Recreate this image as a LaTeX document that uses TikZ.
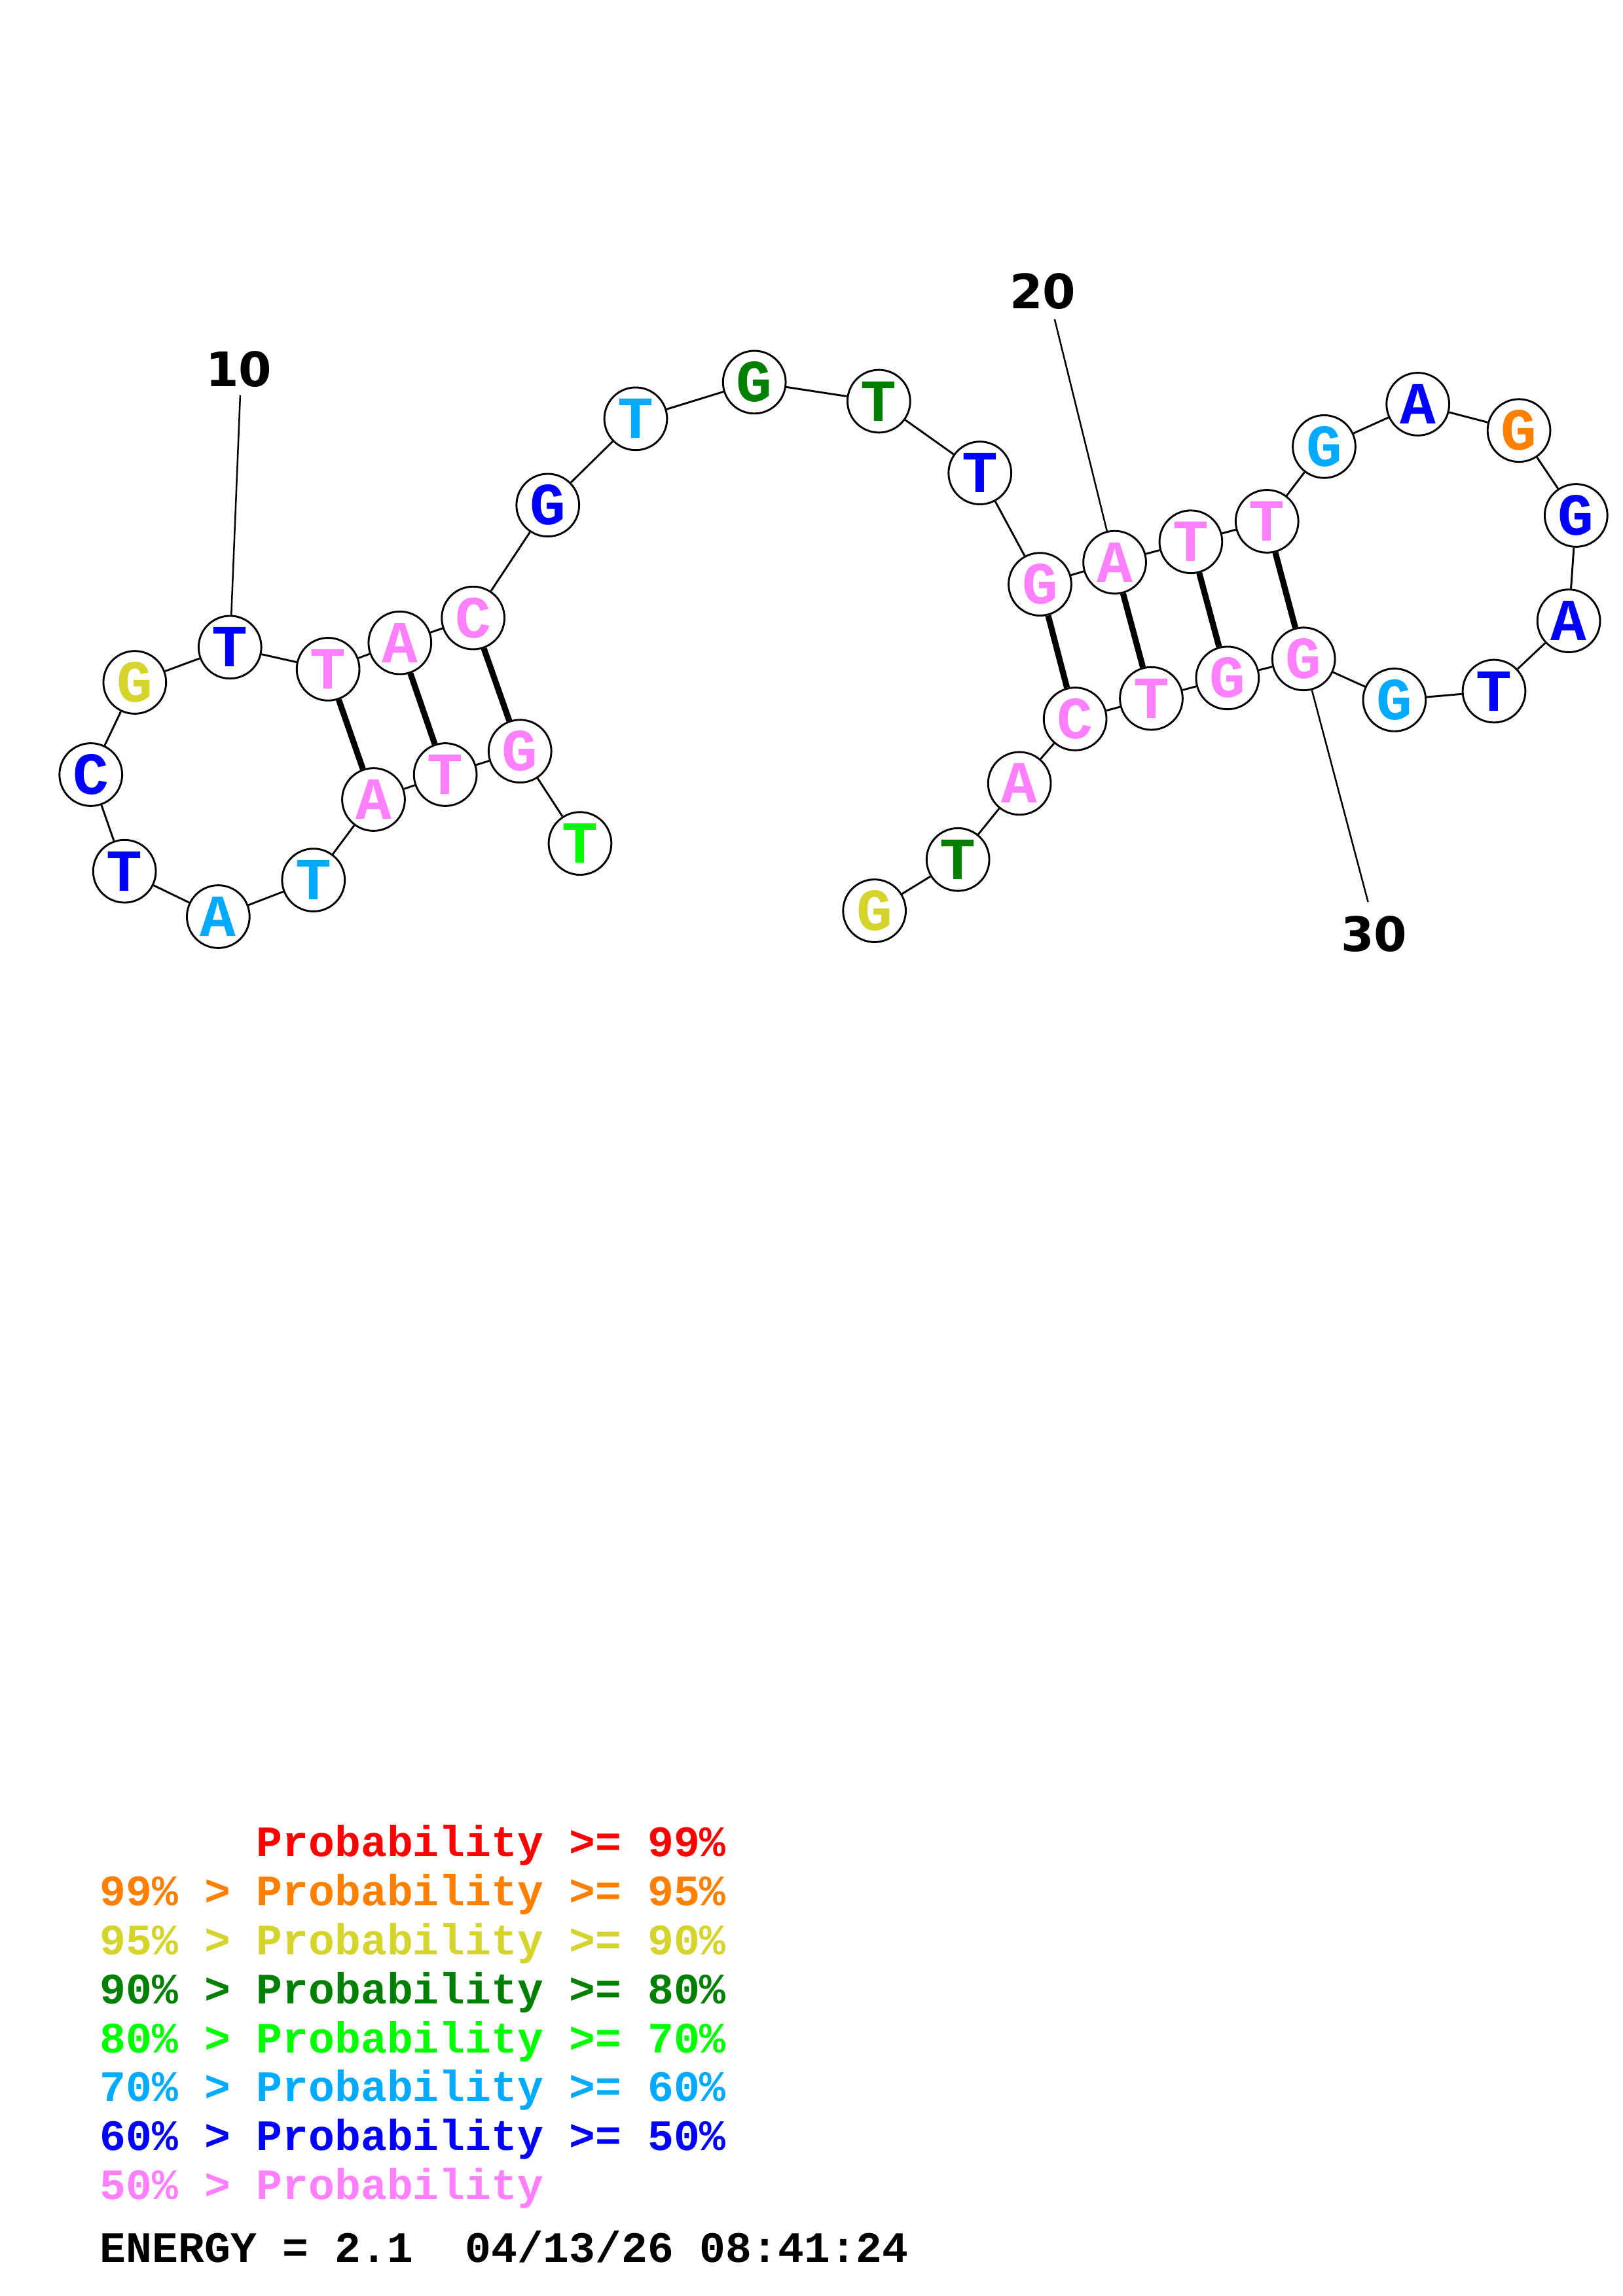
\documentclass[tikz,border=0pt]{standalone}
\usepackage{fontspec}
\newfontfamily\basefont{Liberation Mono}
\newfontfamily\numfont{DejaVu Sans}
\usetikzlibrary{
	positioning				% relative placement
	, calc					% coordinate arithmetic
}
\definecolor{prob99}{HTML}{FF0000}
\definecolor{prob95}{HTML}{FF8000}
\definecolor{prob90}{HTML}{D4D42C}
\definecolor{prob80}{HTML}{008000}
\definecolor{prob70}{HTML}{00FF00}
\definecolor{prob60}{HTML}{00AAFF}
\definecolor{prob50}{HTML}{0000FF}
\definecolor{problow}{HTML}{FF80FF}

\begin{document}
\begin{tikzpicture}[
		x=0.5373bp, y=-0.5373bp
		, nucleotide/.style={draw, circle, fill=white, line width=0.7bp, minimum size=23bp, inner sep=0pt, font=\basefont\bfseries\fontsize{22}{22}\selectfont}
		, backbone/.style={line width=0.7bp}
		, basepair/.style={line width=2.2bp}
		, tickline/.style={line width=0.6bp}
		, ticklabel/.style={font=\numfont\bfseries\fontsize{17.5}{17.5}\selectfont}
		, legendrow/.style={anchor=base west, inner sep=0pt, font=\basefont\bfseries\fontsize{16}{16}\selectfont}]

		%%% Page
		\useasboundingbox (0,0) rectangle (1108,1568);

		%%% Backbone coordinates, 5' to 3'
		\foreach [count=\i] \nt/\px/\py/\col in {
				T/396/576/prob70, G/355/513/problow, T/304/529/problow, A/255/546/problow,
				T/214/601/prob60, A/149/626/prob60, T/85/595/prob50, C/62/529/prob50,
				G/92/466/prob90, T/157/442/prob50, T/224/457/problow, A/273/439/problow,
				C/323/422/problow, G/374/345/prob50, T/434/286/prob60, G/515/261/prob80,
				T/600/274/prob80, T/669/323/prob50, G/710/399/problow, A/761/384/problow,
				T/813/370/problow, T/865/356/problow, G/904/305/prob60, A/968/276/prob50,
				G/1037/294/prob95, G/1076/352/prob50, A/1071/424/prob50, T/1020/472/prob50,
				G/952/478/prob60, G/890/450/problow, G/838/463/problow, T/786/477/problow,
				C/734/491/problow, A/696/535/problow, T/654/587/prob80, G/597/622/prob90} {

			% Draw each base as a circled letter
			\node[nucleotide, text=\col] (n\i) at (\px,\py) {\nt};
		};

		%% Backbone links
		\foreach \i in {1,...,35} {
			\pgfmathtruncatemacro{\j}{\i+1}
			\draw[backbone] (n\i) -- (n\j);
		};

		%% Base pairs
		\foreach \a/\b in {2/13, 3/12, 4/11, 19/33, 20/32, 21/31, 22/30} {
			\draw[basepair] (n\a) -- (n\b);
		};

		%%% Position ticks
		\node[ticklabel] (tick10) at (163,252) {10};
		\coordinate (tick10end) at (164,270);
		\draw[tickline] (tick10end) -- (n10);

		\node[ticklabel] (tick20) at (712,199) {20};
		\coordinate (tick20end) at (720,218);
		\draw[tickline] (tick20end) -- (n20);

		\node[ticklabel] (tick30) at (938,638) {30};
		\coordinate (tick30end) at (934,616);
		\draw[tickline] (n30) -- (tick30end);

		%%% Legend
		\foreach [count=\i] \col/\txt in {
				prob99/{\hphantom{99\% > }Probability >= 99\%},
				prob95/{99\% > Probability >= 95\%},
				prob90/{95\% > Probability >= 90\%},
				prob80/{90\% > Probability >= 80\%},
				prob70/{80\% > Probability >= 70\%},
				prob60/{70\% > Probability >= 60\%},
				prob50/{60\% > Probability >= 50\%},
				problow/{50\% > Probability}} {
			\node[legendrow, text=\col] (legend\i) at (68,{1268+33.43*(\i-1)}) {\txt};
		};

		%% Energy line
		\node[legendrow] (energy) at (68,1545) {ENERGY = 2.1\ \ 04/13/26 08:41:24};
	\end{tikzpicture}
\end{document}
